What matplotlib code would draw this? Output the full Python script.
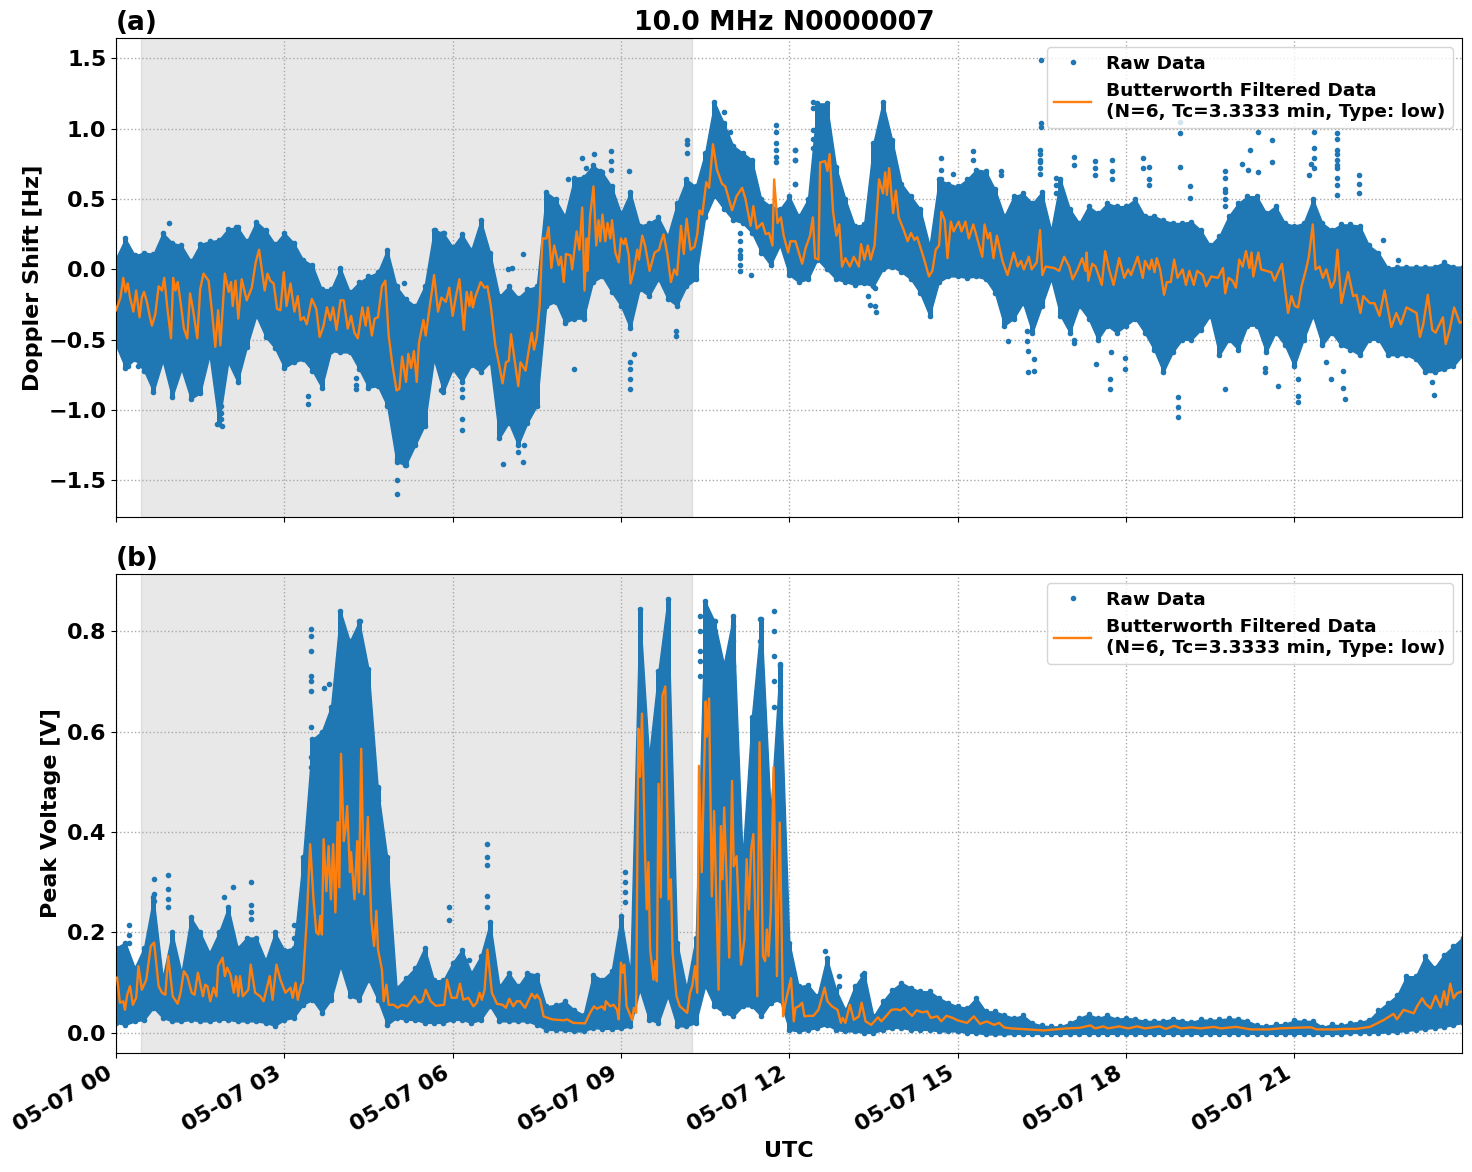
import numpy as np
import matplotlib
matplotlib.use('Agg')
import matplotlib.pyplot as plt
import matplotlib.dates as mdates
from datetime import datetime

# band of the raw data, one value per 10 min from 00:00 to 24:00
doppler_high = [.08,.22,.10,.12,.11,.26, .19,.17,.06,.18,.20,.21, .29,.30,.20,.34,.28,.18,
                .26,.19,.07,.03,-.14,-.14, .01,-.16,-.09,-.05,-.02,.14, -.12,-.21,-.26,-.12,.28,.26,
                .16,.25,.14,.35,.12,-.19, -.12,-.20,-.14,-.12,.55,.50, .38,.65,.66,.74,.69,.59,
                .40,.55,.31,.33,.37,.24, .47,.64,.59,.83,1.19,1.04, .88,.83,.78,.50,.45,.43,
                .52,.38,.50,1.18,1.18,.73, .50,.31,.32,.90,1.19,.92, .61,.52,.43,.17,.64,.61,
                .59,.64,.71,.70,.57,.38, .52,.54,.47,.55,.28,.64, .43,.33,.45,.40,.47,.45,
                .45,.50,.38,.38,.35,.33, .33,.34,.28,.17,.24,.38, .47,.52,.52,.40,.45,.33,
                .31,.33,.50,.33,.28,.32, .32,.31,.17,.12,.01,.02, .02,.02,.02,.02,.05,.02, .02]
doppler_low = [-.54,-.70,-.64,-.72,-.87,-.65, -.91,-.71,-.92,-.88,-.61,-1.10, -.66,-.80,-.55,-.33,-.48,-.56,
               -.70,-.66,-.64,-.72,-.84,-.58, -.59,-.59,-.71,-.84,-.83,-.97, -1.37,-1.39,-1.25,-1.11,-.64,-.87,
               -.71,-.80,-.68,-.73,-.66,-1.20, -1.09,-1.25,-1.09,-.97,-.26,-.23, -.38,-.35,-.35,-.09,-.05,-.16,
               -.26,-.42,-.14,-.19,-.07,-.21, -.26,-.12,-.07,.37,.52,.43, .35,.33,.26,.12,.03,.17,
               -.04,-.09,-.07,.07,0,-.07, -.09,-.11,-.10,-.12,0,.02, -.02,-.07,-.17,-.33,-.09,-.05,
               -.05,-.06,-.05,-.07,-.17,-.40, -.35,-.24,-.45,-.26,-.07,-.33, -.45,-.26,-.35,-.50,-.40,-.45,
               -.40,-.35,-.45,-.57,-.73,-.59, -.50,-.50,-.43,-.33,-.61,-.50, -.57,-.40,-.40,-.59,-.45,-.54,
               -.69,-.50,-.33,-.54,-.45,-.54, -.57,-.61,-.50,-.50,-.61,-.61, -.61,-.64,-.73,-.73,-.71,-.69, -.61]

voltage_high = [.17,.18,.13,.17,.27,.11, .20,.12,.23,.20,.16,.20, .25,.17,.19,.19,.145,.20,
                .165,.17,.35,.585,.60,.65, .84,.78,.82,.725,.486,.35, .09,.11,.13,.17,.105,.105,
                .14,.166,.12,.153,.22,.093, .12,.093,.12,.116,.053,.056, .063,.046,.036,.116,.106,.123,
                .233,.12,.845,.55,.72,.865, .18,.09,.19,.86,.82,.735, .83,.35,.63,.825,.44,.735,
                .18,.093,.096,.073,.15,.086, .046,.093,.12,.033,.063,.086, .10,.09,.083,.083,.07,.06,
                .053,.05,.07,.043,.043,.036, .03,.035,.02,.015,.013,.013, .02,.03,.037,.03,.035,.028,
                .03,.028,.024,.024,.024,.028, .024,.022,.027,.026,.027,.029, .028,.024,.016,.014,.017,.018,
                .025,.024,.024,.012,.017,.015, .02,.022,.026,.045,.06,.075, .113,.113,.153,.13,.156,.173, .19]
voltage_low = [.02,.016,.023,.026,.05,.03, .023,.023,.026,.023,.023,.026, .026,.023,.023,.023,.02,.014,
               .026,.03,.056,.066,.04,.066, .133,.073,.066,.106,.066,.016, .03,.026,.026,.02,.02,.02,
               .026,.026,.02,.026,.053,.023, .023,.023,.023,.016,.006,.006, .005,.003,.003,.01,.008,.008,
               .009,.013,.086,.026,.02,.073, .013,.013,.02,.093,.053,.04, .033,.053,.053,.033,.06,.066,
               .006,.003,.006,.01,.016,.006, .003,.003,0,0,.006,.01, .01,.006,.006,.006,.003,.003,
               .003,0,0,-.003,-.003,-.003, -.002,-.002,-.002,-.002,-.002,-.002, -.002,-.002,-.002,-.002,-.002,-.002,
               -.002,-.002,-.002,-.002,-.002,-.002, -.002,-.002,-.002,-.002,-.002,-.002, -.002,-.002,-.002,-.002,-.002,-.002,
               -.002,-.002,-.002,-.002,-.002,-.002, 0,0,0,0,.001,.002, .004,.006,.008,.010,.012,.016, .02]

# single raw points standing clear of the band
doppler_out_hours = [.22,.40,.94,2.13,2.13,3.42,3.42,4.27,4.27,4.27,5.79,5.79,1.80,1.89,1.88,1.88,1.88,
                     5.0,5.0,5.15,5.0,4.97,5.13,3.46,3.46,3.46,3.99,5.68,5.85,
                     6.17,6.17,6.17,6.17,6.9,7.26,7.17,7.27,7.26,6.98,7.05,8.3,8.52,8.83,8.83,8.83,9.14,8.05,8.38,8.63,
                     8.17,9.17,9.17,9.17,9.17,9.24,9.98,9.98,10.18,10.18,10.18,10.83,10.94,
                     11.13,11.13,11.13,11.13,11.13,11.13,11.13,11.31,12.11,12.11,12.11,
                     11.76,11.76,11.76,11.76,11.76,11.76,12.43,12.43,12.43,12.43,12.43,12.1,12.1,12.1,
                     13.53,13.4,13.43,13.53,13.54,14.7,14.7,14.7,14.92,15.28,15.28,15.77,15.77,15.9,
                     16.24,16.24,16.25,16.25,16.36,16.36,17.08,17.08,17.08,17.08,17.44,17.44,17.44,17.75,17.75,17.75,
                     17.72,17.72,17.74,17.47,17.99,17.99,16.75,16.75,16.75,16.48,16.48,16.48,16.47,16.47,16.47,16.47,16.47,16.47,
                     18.3,18.3,18.42,18.42,18.42,18.97,18.97,18.97,19.15,19.15,
                     19.76,19.76,19.76,19.76,19.76,19.76,20.22,20.07,20.17,20.36,20.36,20.61,20.61,20.71,
                     21.36,21.36,21.36,21.36,21.29,21.27,19.77,18.93,18.93,18.93,21.07,21.07,21.07,21.9,21.87,21.87,
                     21.77,21.77,21.77,21.77,21.77,21.77,21.77,21.77,21.77,21.77,22.15,22.15,22.15,
                     23.49,23.45,21.65,21.56,20.48,20.48,22.58,22.85]
doppler_out_vals = [-.69,-.69,.33,.30,.24,-.90,-.96,-.77,-.82,-.85,-.74,-.86,-1.10,-1.11,-.97,-1.02,-1.06,
                    -1.5,-1.6,-1.39,-1.35,-.12,-.10,.01,-.02,-.04,0,.28,.26,
                    -.85,-.91,-1.06,-1.14,-1.38,-1.37,-1.30,-1.25,.11,0,.01,.79,.82,.84,.77,.71,.70,.64,.72,.70,
                    -.71,-.66,-.71,-.78,-.85,-.60,-.44,-.47,.92,.89,.83,1.12,.98,
                    .26,.20,.14,.10,.08,.03,-.01,-.04,.85,.78,.61,
                    1.03,.98,.90,.85,.80,.76,1.19,1.15,.99,.93,.86,.85,.78,.61,
                    -.13,-.19,-.25,-.26,-.30,.79,.71,.64,.68,.84,.78,.70,.67,-.51,
                    -.44,-.51,-.58,-.73,-.64,-.72,.80,.74,-.50,-.52,.77,.72,.67,.78,.70,.64,
                    -.78,-.85,-.59,-.67,-.63,-.71,.65,.60,.54,1.49,1.04,1.01,.85,.82,.78,.76,.72,.68,
                    .79,.72,.73,.64,.60,.97,.73,1.05,.59,.51,
                    .70,.65,.57,.55,.50,.45,.85,.75,.71,.69,.98,.92,.76,-.83,
                    .98,.86,.79,.72,.75,.67,-.85,-.91,-.98,-1.05,-.90,-.94,-.78,-.92,-.72,-.84,
                    .97,.93,.85,.82,.78,.74,.72,.65,.60,.53,.67,.61,.54,
                    -.89,-.80,-.78,-.66,-.70,-.73,.21,.07]

voltage_out_hours = [.24,.24,.24,.68,.68,.68,.93,.93,.93,.93,1.92,2.08,2.4,2.4,2.4,2.4,3.18,3.18,
                     3.47,3.47,3.47,3.47,3.47,3.47,3.47,3.47,3.47,3.71,3.79,4.35,4.67,4.67,4.67,4.67,4.76,5.94,5.94,
                     6.62,6.62,6.62,6.62,6.62,6.29,9.07,9.07,9.07,9.07,
                     10.99,10.99,10.67,10.67,10.67,10.82,10.82,10.82,10.82,10.82,11.48,11.48,11.48,11.48,11.84,11.84,11.84,11.84,11.84,
                     10.99,10.99,10.99,10.4,10.4,10.4,10.4,10.4,11.72,11.72,11.72,11.72,11.72,
                     12.63,12.88,12.88,13.29,13.29,13.29]
voltage_out_vals = [.215,.195,.18,.306,.276,.263,.314,.286,.266,.25,.27,.29,.30,.255,.24,.226,.215,.19,
                    .805,.79,.76,.71,.70,.68,.61,.55,.53,.687,.695,.82,.49,.464,.446,.43,.35,.25,.225,
                    .376,.35,.334,.273,.25,.146,.32,.30,.28,.26,
                    .81,.78,.82,.80,.77,.725,.685,.65,.60,.55,.825,.78,.74,.70,.73,.69,.65,.60,.55,
                    .73,.71,.64,.83,.80,.76,.74,.71,.84,.80,.75,.70,.65,
                    .163,.114,.093,.116,.10,.08]

# Butterworth filtered curves, turning points
doppler_filt_hours = [0,.08,.13,.17,.21,.25,.31,.36,.42,.46,.5,.55,.6,.64,.70,.76,.82,.86,.92,.98,1.02,1.06,1.10,1.15,1.21,1.27,1.32,1.37,1.45,1.5,
    1.56,1.65,1.71,1.77,1.82,1.86,1.94,2.01,2.05,2.08,2.13,2.18,2.24,2.33,2.42,2.49,2.55,2.65,2.70,2.75,2.81,2.87,2.93,2.99,3.04,3.11,3.18,3.24,3.29,3.35,
    3.40,3.49,3.57,3.63,3.70,3.76,3.82,3.87,3.93,4.0,4.06,4.13,4.19,4.25,4.31,4.39,4.45,4.49,4.56,4.61,4.67,4.74,4.80,4.86,4.92,5.0,5.05,5.10,5.17,5.21,
    5.26,5.31,5.36,5.40,5.48,5.52,5.58,5.67,5.74,5.80,5.88,5.94,
    6.0,6.06,6.12,6.2,6.25,6.3,6.33,6.36,6.4,6.5,6.57,6.62,6.68,6.76,6.82,6.89,6.95,7.0,7.04,7.11,7.17,7.21,7.30,7.35,7.41,7.45,7.5,7.55,7.6,7.67,
    7.71,7.76,7.81,7.89,7.93,7.98,8.02,8.1,8.13,8.21,8.26,8.31,8.35,8.39,8.40,8.45,8.51,8.56,8.6,8.63,8.67,8.72,8.76,8.81,8.84,8.9,8.96,9.0,9.05,9.08,
    9.14,9.17,9.23,9.29,9.32,9.38,9.43,9.51,9.6,9.68,9.71,9.76,9.83,9.89,9.95,10.0,10.07,10.12,10.17,10.24,10.31,10.36,10.4,10.45,10.52,10.57,10.64,10.71,10.8,10.86,
    10.98,11.06,11.16,11.22,11.31,11.36,11.42,11.52,11.58,11.64,11.7,11.73,11.79,11.85,11.9,11.98,12.02,12.11,12.17,12.23,12.29,12.37,12.42,12.46,12.52,12.55,12.64,12.68,12.72,12.78,
    12.84,12.89,12.94,13.0,13.08,13.15,13.24,13.28,13.34,13.4,13.45,13.52,13.6,13.67,13.71,13.74,13.78,13.85,13.9,13.95,14.04,14.11,14.17,14.23,14.28,14.39,14.49,14.55,14.61,14.67,
    14.71,14.77,14.82,14.88,14.93,15.02,15.07,15.14,15.2,15.28,15.44,15.48,15.54,15.58,15.64,15.7,15.8,15.89,16.0,16.07,16.13,16.18,16.27,16.32,16.41,16.47,16.51,16.57,16.72,16.81,
    16.9,16.99,17.05,17.14,17.22,17.28,17.30,17.33,17.4,17.46,17.57,17.63,17.7,17.78,17.88,17.97,18.04,18.09,18.21,18.3,18.34,18.42,18.46,18.51,18.55,18.61,18.68,18.73,18.8,18.86,
    18.92,19.01,19.07,19.13,19.21,19.27,19.37,19.43,19.52,19.64,19.73,19.77,19.83,19.9,19.96,20.02,20.08,20.14,20.2,20.24,20.27,20.36,20.41,20.59,20.65,20.78,20.89,20.95,21.01,21.07,
    21.13,21.21,21.26,21.33,21.38,21.45,21.51,21.57,21.66,21.72,21.77,21.84,21.96,22.05,22.11,22.18,22.23,22.35,22.43,22.52,22.61,22.73,22.82,22.9,23.0,23.18,23.24,23.3,23.38,23.46,
    23.52,23.65,23.7,23.77,23.85,23.95,24.0]
doppler_filt_vals = [-.29,-.20,-.06,-.16,-.10,-.20,-.30,-.15,-.34,-.20,-.16,-.23,-.33,-.40,-.32,-.12,-.15,-.06,-.29,-.49,-.06,-.15,-.09,-.23,-.42,-.49,-.17,-.28,-.49,-.14,
    -.03,-.08,-.30,-.55,-.29,-.54,-.03,-.16,-.09,-.26,-.08,-.35,-.07,-.22,-.13,.05,.14,-.15,-.03,-.08,-.10,-.28,-.29,-.02,-.26,-.10,-.30,-.19,-.36,-.34,
    -.39,-.21,-.28,-.48,-.40,-.27,-.36,-.27,-.43,-.22,-.22,-.42,-.33,-.45,-.49,-.27,-.40,-.27,-.47,-.35,-.34,-.12,-.08,-.47,-.66,-.86,-.85,-.62,-.80,-.60,
    -.70,-.58,-.80,-.52,-.36,-.47,-.30,-.04,-.30,-.20,-.23,-.13,
    -.33,-.19,-.07,-.43,-.16,-.26,-.16,-.27,-.20,-.09,-.13,-.12,-.26,-.54,-.66,-.81,-.66,-.65,-.46,-.66,-.83,-.66,-.72,-.59,-.45,-.57,-.48,-.26,.22,.22,
    .30,.01,.17,.03,.09,-.09,.11,.10,0,.27,.14,.44,-.15,.22,-.01,.38,.59,.17,.35,.20,.39,.20,.33,.22,.35,.12,.05,.22,.18,.22,
    .10,-.10,-.01,.14,.07,.24,.17,-.01,.12,.14,.19,.25,.10,-.09,0,-.04,.31,.11,.36,.14,.16,.25,.42,.39,.62,.58,.89,.71,.61,.59,
    .42,.52,.58,.50,.31,.45,.29,.33,.25,.26,.17,.64,.33,.37,.24,.12,.20,.20,.12,.04,.15,.24,.37,.08,.07,.76,.77,.70,.82,.41,
    .24,.32,.02,.08,.02,.09,.02,.18,.07,.17,.07,.17,.64,.54,.69,.53,.72,.40,.56,.37,.28,.20,.26,.21,.23,.09,-.05,-.01,.14,.17,
    .41,.35,.08,.34,.27,.34,.27,.34,.22,.32,.09,.32,.22,.26,.08,.24,.06,-.04,.12,.02,.06,0,.09,0,.05,.28,-.04,.02,.01,-.01,
    .09,.02,-.07,0,.08,-.01,.12,-.08,.04,.02,-.11,.13,0,-.11,.08,-.06,0,-.04,.09,-.06,.06,0,.07,-.02,.08,0,-.18,-.09,-.09,.07,
    -.06,0,-.11,-.01,-.11,-.01,-.04,-.12,-.05,-.06,.01,-.17,-.06,-.08,-.13,.07,.02,.13,.01,.12,-.05,.12,0,-.02,-.08,.04,-.31,-.19,-.26,-.27,
    -.12,0,.09,.32,0,.02,-.06,0,-.13,-.08,.14,-.24,-.02,-.19,-.18,-.31,-.19,-.24,-.24,-.33,-.15,-.41,-.31,-.39,-.27,-.31,-.48,-.39,-.18,-.43,
    -.45,-.34,-.53,-.43,-.27,-.38,-.37]

voltage_filt_hours = [.02,.07,.13,.16,.2,.25,.3,.36,.4,.46,.54,.62,.68,.76,.82,.88,.93,1.01,1.1,1.15,1.21,1.27,1.35,1.4,1.46,1.55,1.59,1.63,1.68,1.74,
    1.79,1.82,1.9,1.94,1.98,2.04,2.1,2.14,2.18,2.21,2.26,2.36,2.4,2.48,2.57,2.63,2.74,2.79,2.86,2.93,3.02,3.11,3.15,3.2,3.24,3.3,3.33,3.4,3.46,3.52,
    3.57,3.61,3.64,3.67,3.7,3.75,3.79,3.83,3.87,3.91,3.95,3.98,4.01,4.06,4.09,4.12,4.17,4.19,4.25,4.3,4.33,4.37,4.42,4.49,4.55,4.6,4.64,4.67,4.74,4.77,
    4.82,4.86,4.95,5.02,5.1,5.19,5.28,5.32,5.4,5.46,5.52,5.61,5.7,5.85,5.9,5.98,6.07,6.13,6.19,6.28,6.37,6.43,6.48,6.52,6.57,6.62,6.7,6.79,6.89,6.95,
    7.01,7.08,7.14,7.2,7.29,7.41,7.47,7.5,7.56,7.62,7.77,7.98,8.04,8.15,8.36,8.45,8.52,8.57,8.66,8.71,8.73,8.81,8.87,8.93,8.96,9.0,9.03,9.06,9.1,9.2,
    9.23,9.27,9.31,9.34,9.375,9.43,9.46,9.49,9.52,9.58,9.61,9.64,9.67,9.71,9.74,9.79,9.85,9.89,9.92,9.99,10.05,10.18,10.23,10.27,10.32,10.36,10.39,10.44,10.51,10.53,
    10.57,10.62,10.66,10.74,10.78,10.81,10.84,10.93,10.98,11.01,11.06,11.14,11.2,11.24,11.28,11.32,11.36,11.43,11.47,11.53,11.57,11.6,11.63,11.67,11.72,11.78,11.83,11.89,11.93,12.03,
    12.08,12.11,12.17,12.23,12.27,12.35,12.43,12.52,12.63,12.68,12.76,12.86,12.92,12.95,13.0,13.08,13.15,13.24,13.29,13.36,13.46,13.58,13.64,13.73,13.82,13.91,13.98,14.05,14.13,14.19,
    14.27,14.37,14.46,14.52,14.64,14.71,14.8,14.91,15.0,15.17,15.29,15.4,15.52,15.65,15.74,15.83,15.95,16.54,16.94,17.17,17.37,17.45,17.6,17.68,17.88,18.04,18.2,18.34,18.6,18.71,
    18.86,18.98,19.17,19.33,19.57,19.69,19.96,20.23,20.55,20.74,21.22,21.3,21.4,21.73,21.88,22.1,22.35,22.6,22.77,22.83,22.95,23.13,23.19,23.28,23.34,23.43,23.52,23.61,23.67,23.72,
    23.78,23.84,23.9,24.0]
voltage_filt_vals = [.11,.06,.063,.046,.076,.093,.056,.07,.133,.086,.106,.173,.18,.093,.08,.076,.153,.073,.058,.08,.123,.113,.08,.076,.12,.073,.096,.093,.063,.09,
    .073,.133,.15,.113,.13,.116,.08,.113,.073,.113,.073,.086,.136,.08,.073,.063,.113,.066,.136,.106,.08,.09,.07,.1,.066,.096,.1,.226,.376,.266,
    .2,.196,.233,.196,.386,.282,.372,.266,.376,.24,.42,.29,.556,.382,.405,.452,.32,.36,.266,.382,.28,.566,.276,.43,.226,.173,.243,.166,.126,.063,
    .096,.056,.056,.05,.056,.053,.066,.073,.06,.063,.086,.063,.054,.056,.106,.07,.07,.098,.066,.07,.053,.06,.08,.066,.086,.166,.08,.058,.056,.05,
    .068,.053,.063,.063,.05,.078,.069,.076,.066,.033,.027,.025,.027,.02,.019,.04,.053,.048,.053,.046,.063,.053,.056,.046,.027,.14,.12,.136,.053,.026,
    .05,.04,.606,.51,.636,.352,.246,.34,.166,.106,.143,.103,.496,.27,.672,.69,.266,.306,.16,.073,.053,.04,.08,.093,.133,.08,.532,.32,.66,.59,
    .666,.272,.442,.086,.412,.306,.449,.15,.502,.332,.352,.136,.186,.346,.246,.366,.396,.073,.579,.153,.143,.206,.153,.24,.529,.113,.419,.033,.059,.109,
    .023,.05,.053,.06,.033,.034,.034,.046,.09,.063,.053,.046,.02,.03,.02,.056,.026,.033,.06,.023,.016,.031,.023,.034,.046,.047,.045,.05,.04,.034,
    .045,.041,.043,.03,.033,.023,.034,.03,.025,.02,.033,.018,.023,.016,.02,.011,.009,.005,.009,.01,.015,.009,.013,.009,.013,.009,.013,.009,.013,.008,
    .014,.009,.011,.009,.012,.009,.012,.007,.007,.009,.011,.011,.007,.007,.008,.008,.012,.026,.038,.027,.046,.039,.053,.069,.058,.049,.074,.051,.083,.056,
    .098,.069,.079,.083]

doppler_ticks = [-1.5, -1.0, -0.5, 0.0, 0.5, 1.0, 1.5]
voltage_ticks = [0.0, 0.2, 0.4, 0.6, 0.8]
legend_filter = 'Butterworth Filtered Data\n(N=6, Tc=3.3333 min, Type: low)'

day = mdates.date2num(datetime(2024, 5, 7))


def to_date(hours):
    return day + np.asarray(hours) / 24.0


def draw_panel(ax, high, low, out_hours, out_vals, filt_hours, filt_vals):
    grid = np.arange(len(high)) / 6.0
    raw_t = np.concatenate([grid, grid, out_hours])
    raw_v = np.concatenate([high, low, out_vals])
    ax.axvspan(to_date(0.445), to_date(10.27), color='grey', alpha=0.18, zorder=0)
    # solid band plus a thin round stroke per 10 min, so peaks look like stacked dots
    ax.fill_between(to_date(grid), low, high, color='C0', linewidth=1, zorder=2)
    ax.vlines(to_date(grid), low, high, color='C0', linewidth=3.6, capstyle='round', zorder=2)
    ax.plot(to_date(raw_t), raw_v, '.', color='C0', label='Raw Data', zorder=2)
    ax.plot(to_date(filt_hours), filt_vals, color='C1', linewidth=1.7, label=legend_filter, zorder=3)
    ax.grid(color='darkgrey', linestyle=':', linewidth=1)
    ax.legend(loc='upper right', fontsize=13.3)


plt.rcParams['font.weight'] = 'bold'
plt.rcParams['axes.labelweight'] = 'bold'
plt.rcParams['axes.titleweight'] = 'bold'
plt.rcParams['font.size'] = 16

fig, (ax1, ax2) = plt.subplots(2, 1, sharex=True, figsize=(14.72, 11.72), dpi=100)
fig.subplots_adjust(left=116 / 1472, right=1462 / 1472, top=1 - 38 / 1172, bottom=1 - 1053 / 1172, hspace=0.119)

draw_panel(ax1, doppler_high, doppler_low, doppler_out_hours, doppler_out_vals, doppler_filt_hours, doppler_filt_vals)
draw_panel(ax2, voltage_high, voltage_low, voltage_out_hours, voltage_out_vals, voltage_filt_hours, voltage_filt_vals)

ax1.set_ylim(-1.76, 1.645)
ax1.set_yticks(doppler_ticks)
ax1.set_ylabel('Doppler Shift [Hz]')
ax1.set_title('10.0 MHz N0000007', fontsize=19.2, pad=6, x=0.4965)
ax1.set_title('(a)', loc='left', fontsize=19, pad=6)

ax2.set_ylim(-0.04, 0.914)
ax2.set_yticks(voltage_ticks)
ax2.set_ylabel('Peak Voltage [V]')
ax2.set_xlabel('UTC')
ax2.set_title('(b)', loc='left', fontsize=19, pad=6)

ax2.set_xlim(to_date(0), to_date(23.99))
ax2.xaxis.set_major_locator(mdates.HourLocator(byhour=range(0, 24, 3)))
ax2.xaxis.set_major_formatter(mdates.DateFormatter('%m-%d %H'))
fig.autofmt_xdate(bottom=1 - 1053 / 1172, rotation=30, ha='right')
ax1.tick_params(labelbottom=False)

plt.savefig('out.png', dpi=100)
